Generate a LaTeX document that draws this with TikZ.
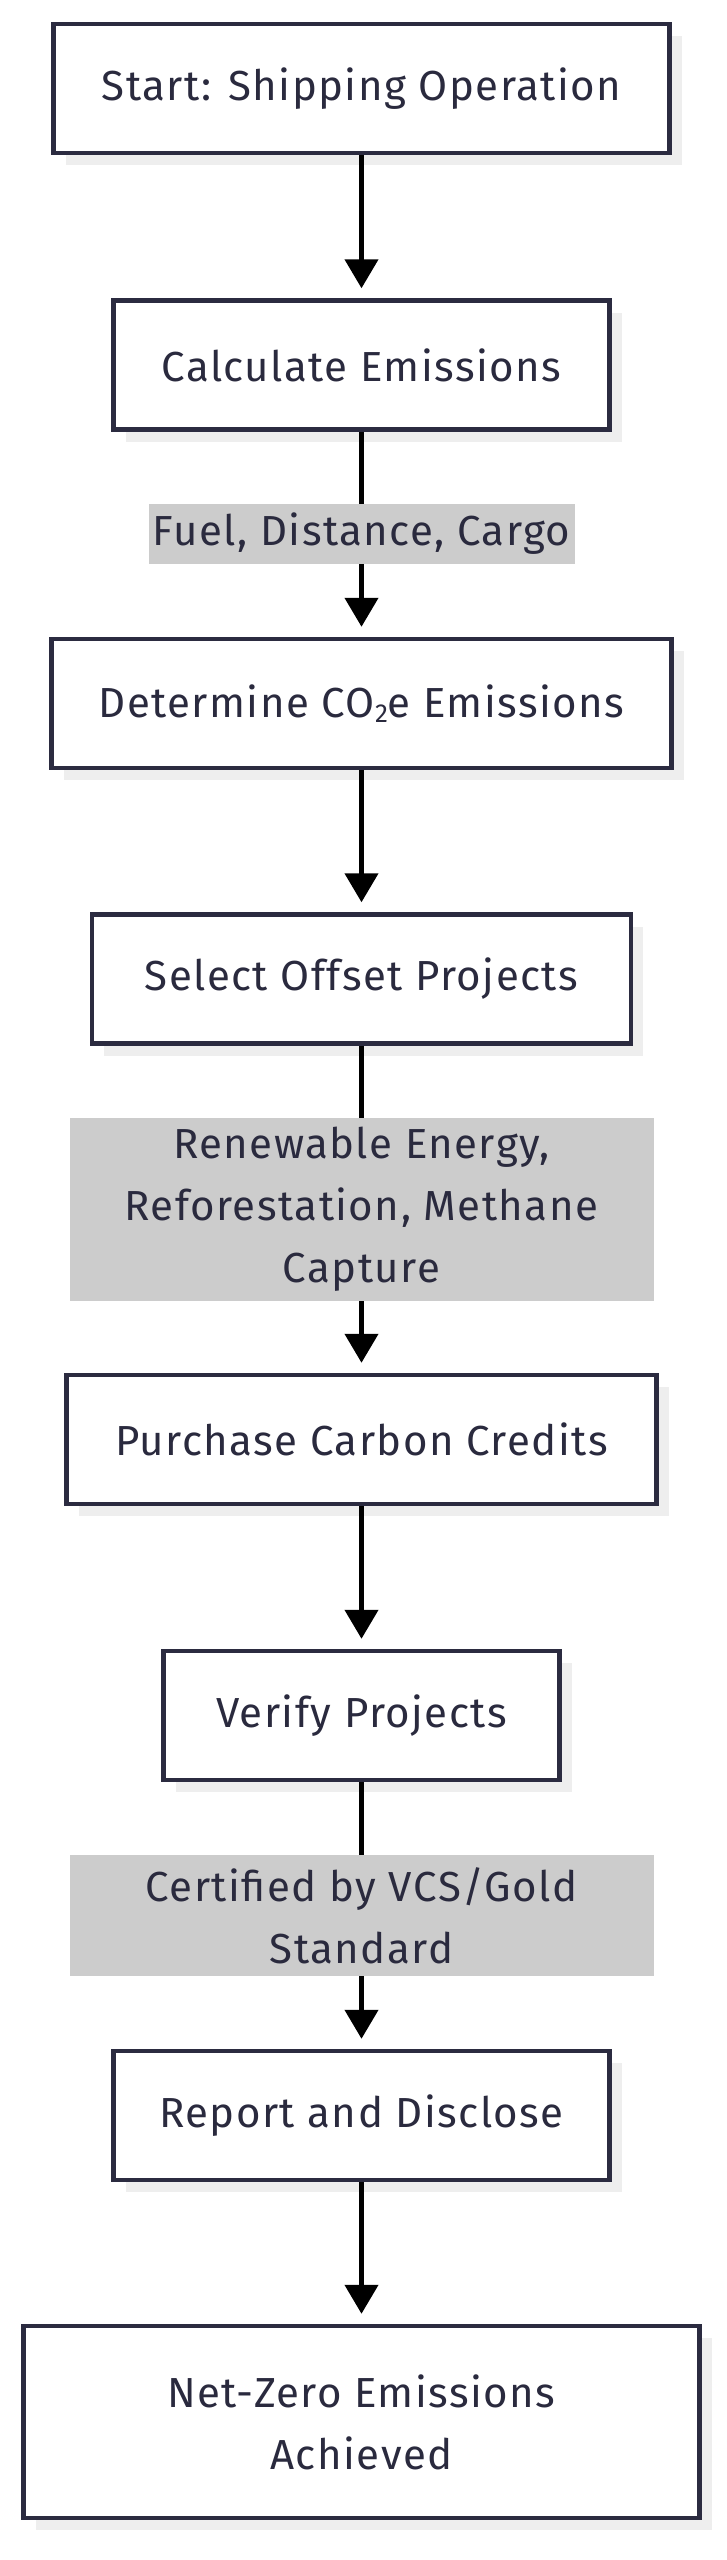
\documentclass[tikz,border=0pt]{standalone}
\usepackage{fontspec}
\setmainfont{Fira Sans}[LetterSpace=3.5]
\usetikzlibrary{arrows.meta,shadows}
\definecolor{boxline}{HTML}{2B2B40}
\definecolor{txt}{HTML}{2A2A3E}
\definecolor{shade}{HTML}{EEEEEE}
\definecolor{lbl}{HTML}{CCCCCC}
\begin{document}
\begin{tikzpicture}[x=1pt,y=1pt,
  stepbox/.style={draw=boxline, line width=4.5pt, fill=white, text=txt,
    minimum height=129pt, inner sep=0pt, align=center,
    font=\fontsize{42}{62}\selectfont,
    drop shadow={shadow xshift=12pt, shadow yshift=-12pt, fill=shade, opacity=1, draw=none}},
  edgelbl/.style={fill=lbl, text=txt, inner sep=0pt, align=center,
    font=\fontsize{42}{62}\selectfont},
  arr/.style={line width=4.5pt, draw=black, -{Triangle[width=33pt,length=29pt]}, shorten >=10pt}]
\fill[white] (0,0) rectangle (727,-2560);
\useasboundingbox (0,0) rectangle (727,-2560);
\node[stepbox, minimum width=616pt] (start) at (361.5,-88.5) {Start: Shipping Operation};
\node[stepbox, minimum width=496pt] (calc) at (361.5,-365) {Calculate Emissions};
\node[stepbox, minimum width=620pt] (det) at (361.5,-703.5) {Determine CO\raisebox{-0.25ex}{\fontsize{26}{26}\selectfont 2}e Emissions};
\node[stepbox, minimum width=539pt] (sel) at (361.5,-979) {Select Offset Projects};
\node[stepbox, minimum width=590pt] (pur) at (361.5,-1439.5) {Purchase Carbon Credits};
\node[stepbox, minimum width=396pt] (ver) at (361.5,-1715.5) {Verify Projects};
\node[stepbox, minimum width=496pt] (rep) at (361.5,-2115.5) {Report and Disclose};
\node[stepbox, minimum width=676pt, minimum height=192pt] (net) at (361.5,-2422) {Net-Zero Emissions\\Achieved};
\draw[arr] (start) -- (calc);
\draw[arr] (calc) -- (det);
\draw[arr] (det) -- (sel);
\draw[arr] (sel) -- (pur);
\draw[arr] (pur) -- (ver);
\draw[arr] (ver) -- (rep);
\draw[arr] (rep) -- (net);
\node[edgelbl, minimum width=426pt, minimum height=60pt] (l1) at (361.5,-534) {Fuel, Distance, Cargo};
\node[edgelbl, minimum width=584pt, minimum height=183pt] (l2) at (361.5,-1209.5) {Renewable Energy,\\Reforestation, Methane\\Capture};
\node[edgelbl, minimum width=584pt, minimum height=121pt] (l3) at (361.5,-1915.5) {Certified by VCS/Gold\\Standard};
\end{tikzpicture}
\end{document}
